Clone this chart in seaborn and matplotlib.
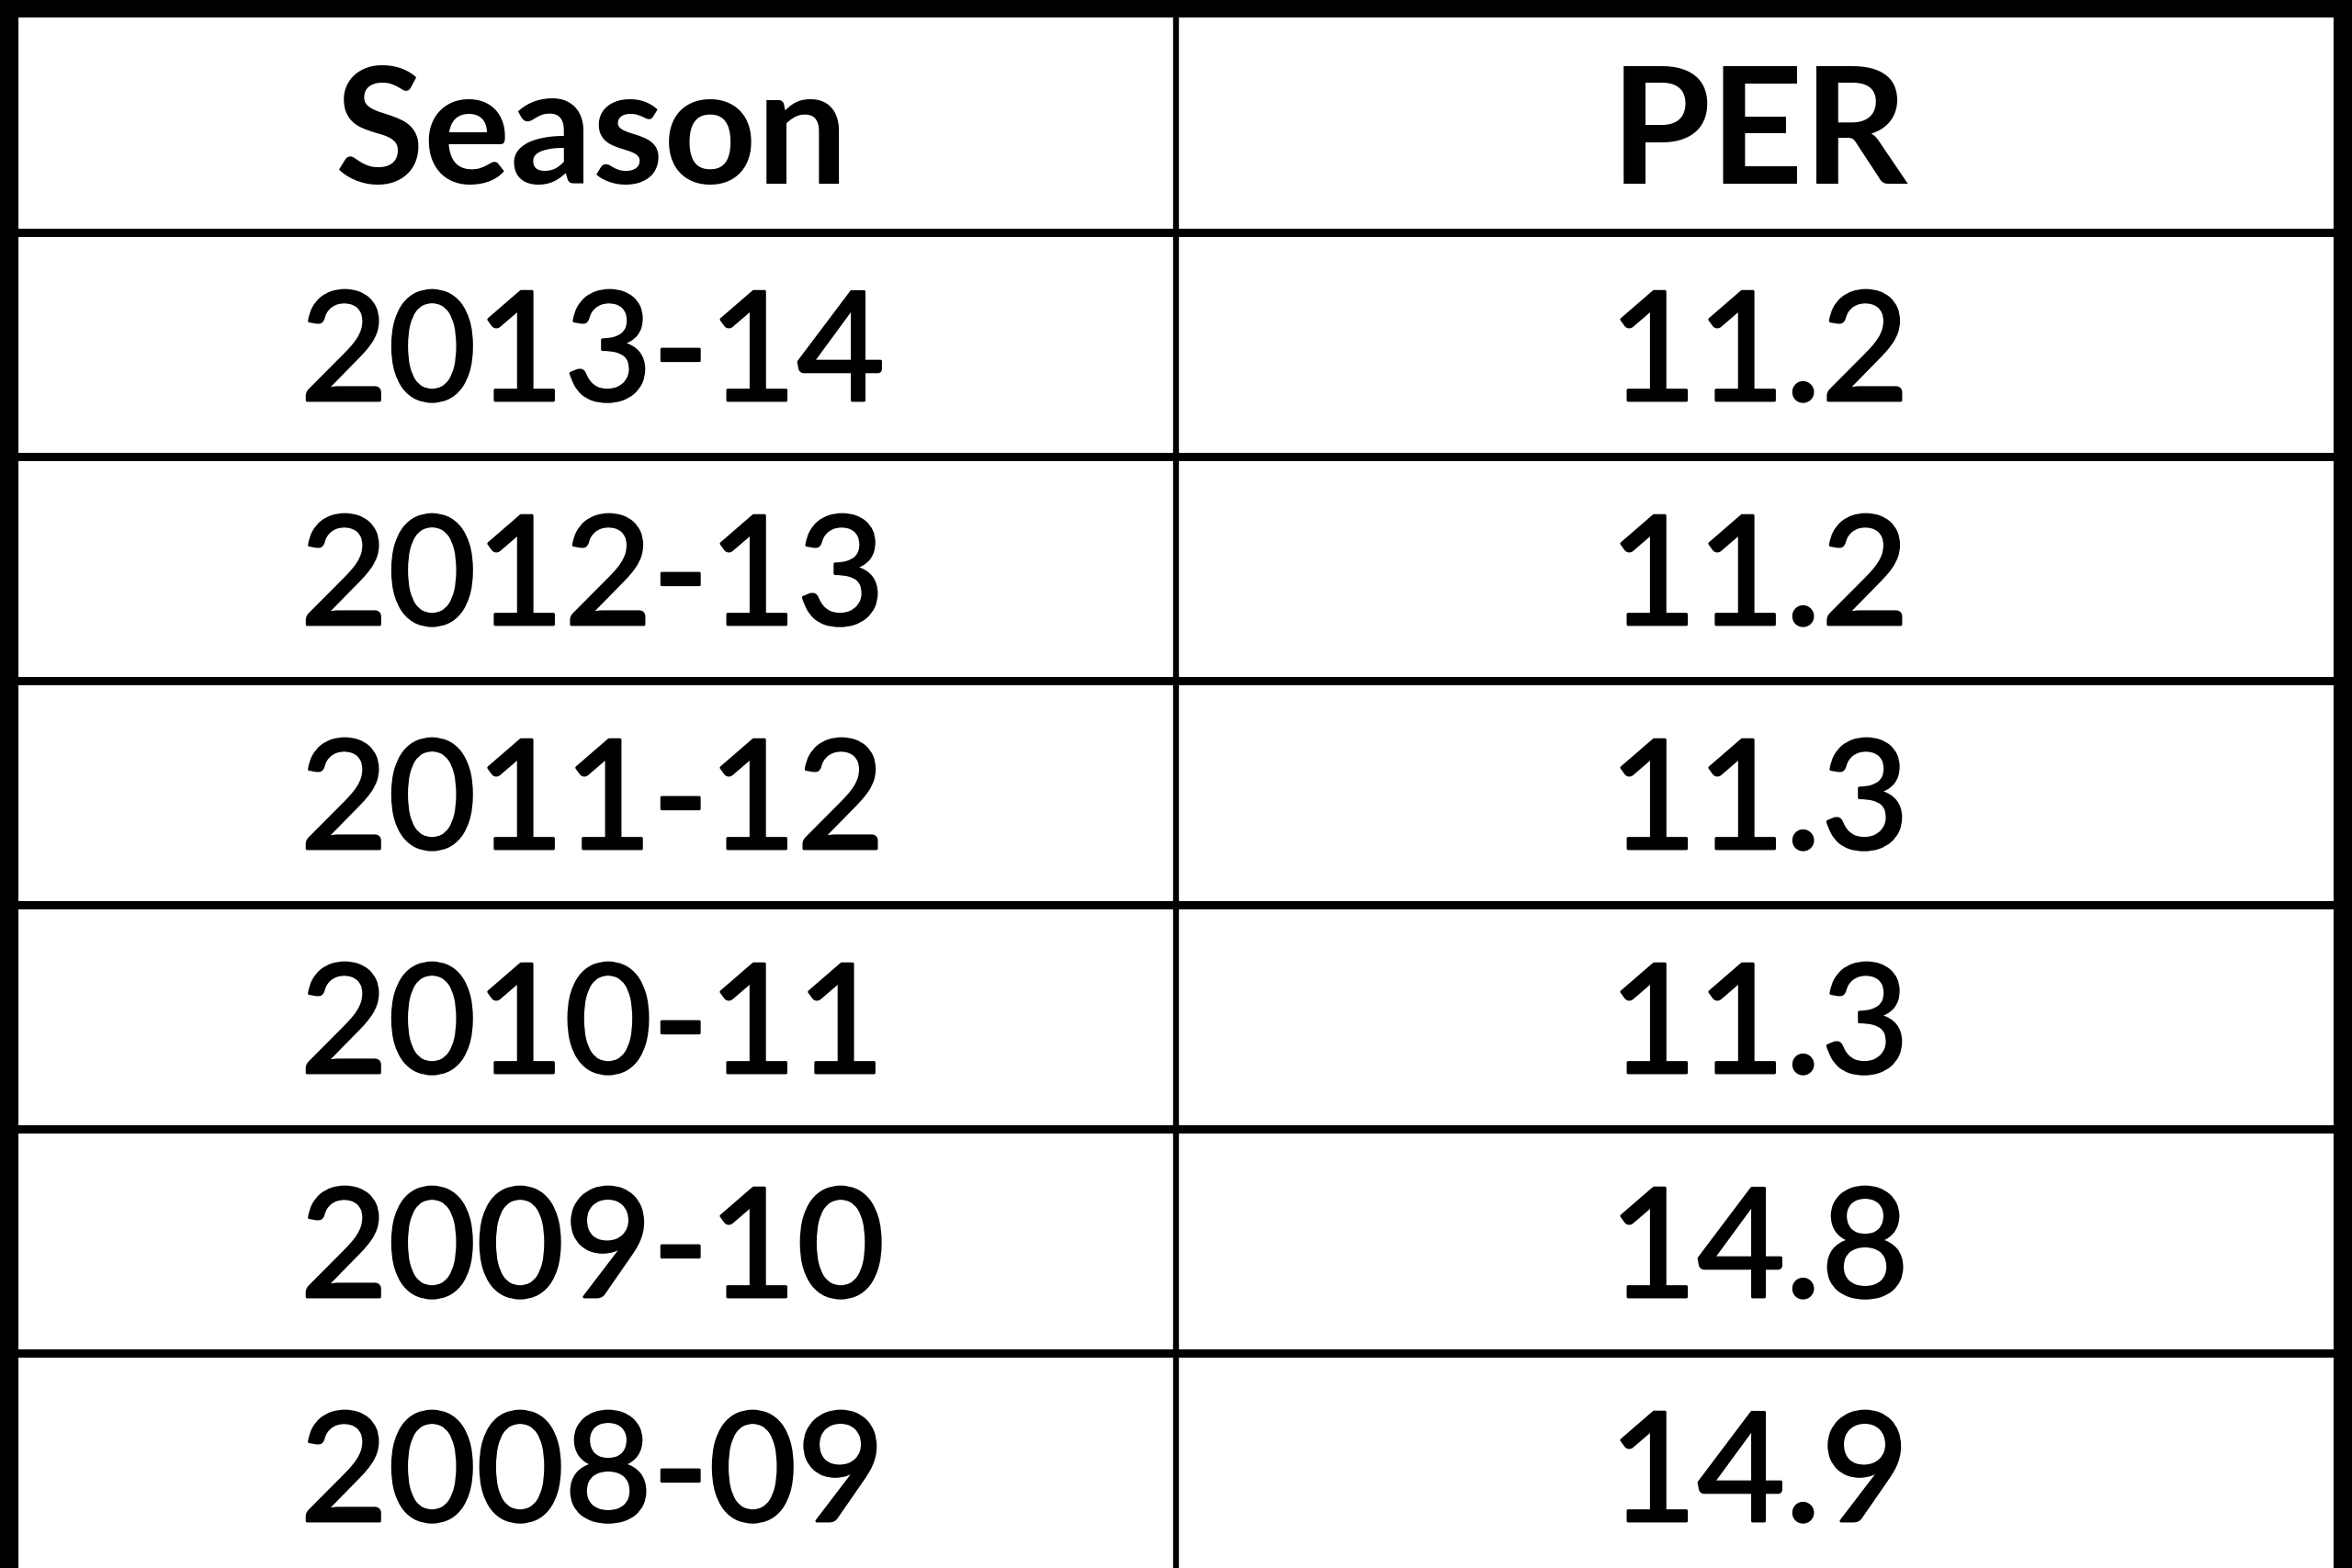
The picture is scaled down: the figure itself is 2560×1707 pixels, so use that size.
import numpy as np
import matplotlib
matplotlib.use("Agg")
import matplotlib.pyplot as plt
import matplotlib.patheffects as pe
from matplotlib.colors import ListedColormap
import seaborn as sns

# ---- data ----
columns = ["Season", "PER"]
seasons = ["2013-14", "2012-13", "2011-12", "2010-11", "2009-10", "2008-09"]
per = [11.2, 11.2, 11.3, 11.3, 14.8, 14.9]

sns.set_theme(style="white")
plt.rcParams["font.family"] = ["Lato", "DejaVu Sans"]

labels = np.array([columns] + [[s, f"{p:.1f}"] for s, p in zip(seasons, per)], dtype=object)
grid = np.zeros(labels.shape)
n_rows, n_cols = labels.shape

W, H, DPI = 2560, 1708, 100
fig = plt.figure(figsize=(W / DPI, H / DPI), dpi=DPI)
fig.patch.set_facecolor("white")

left_px, right_px, top_px, bottom_px = 10, 2549.5, 10, 1718
ax = fig.add_axes([left_px / W, 1 - bottom_px / H,
                   (right_px - left_px) / W, (bottom_px - top_px) / H])

sns.heatmap(grid, cmap=ListedColormap(["white"]), cbar=False,
            annot=labels, fmt="", linewidths=0,
            xticklabels=False, yticklabels=False, ax=ax,
            annot_kws=dict(fontsize=119, color="black"))

for k, t in enumerate(ax.texts):
    x, y = t.get_position()
    if k < n_cols:
        t.set_fontweight("bold")
        t.set_fontsize(127)
        t.set_position((x, y + 0.073))
    else:
        t.set_position((x, y + 0.058))
        t.set_path_effects([pe.withStroke(linewidth=2.2, foreground="black")])

for i in range(1, n_rows):
    ax.axhline(i, color="black", lw=6.5, zorder=3)
for j in range(1, n_cols):
    ax.axvline(j, color="black", lw=4.6, zorder=3)

for side in ["top", "left", "right"]:
    ax.spines[side].set_visible(True)
    ax.spines[side].set_color("black")
    ax.spines[side].set_linewidth(14.5)
    ax.spines[side].set_zorder(4)
ax.spines["bottom"].set_visible(False)
ax.set_xlabel("")
ax.set_ylabel("")

fig.savefig("out.png", dpi=DPI, facecolor="white")
